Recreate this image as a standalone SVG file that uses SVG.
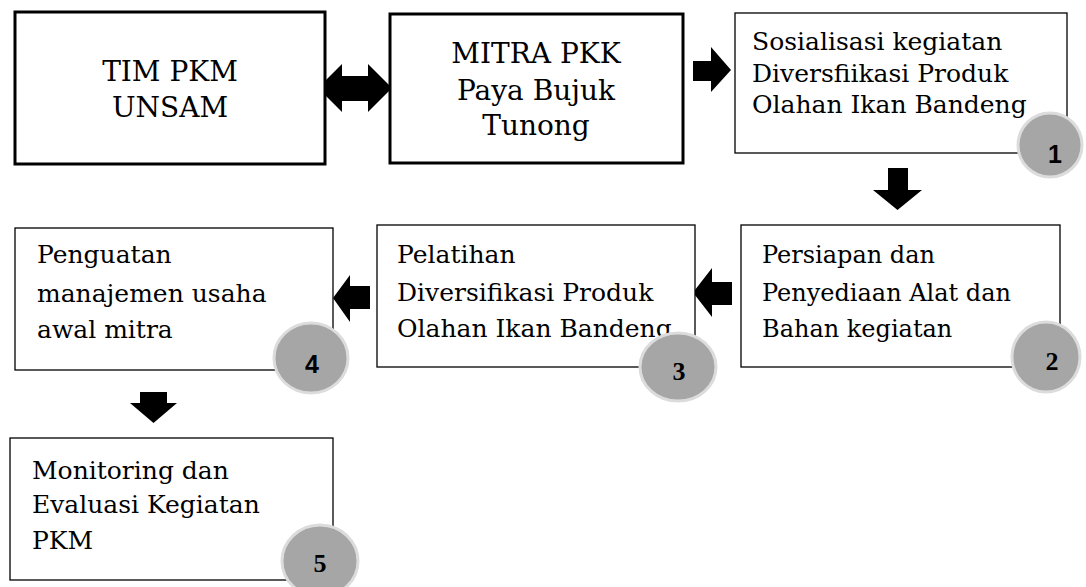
<svg xmlns="http://www.w3.org/2000/svg" width="1086" height="587" viewBox="0 0 1086 587">
<style>
.bx{fill:#fff;stroke:#000;stroke-width:1.3}
.bxt{fill:#fff;stroke:#000;stroke-width:3}
.t{font-family:"DejaVu Serif","Liberation Serif",serif;font-size:25px;fill:#000}
.tc{font-family:"DejaVu Serif","Liberation Serif",serif;font-size:28px;fill:#000;text-anchor:middle}
.c{fill:#a6a6a6;stroke:#dcdcdc;stroke-width:3}
.ns{font-family:"Liberation Sans",Arial,sans-serif;font-weight:bold;font-size:25px;fill:#000;text-anchor:middle}
.nr{font-family:"Liberation Serif","Times New Roman",serif;font-weight:bold;font-size:26px;fill:#000;text-anchor:middle}
.ar{fill:#000}
</style>
<rect width="1086" height="587" fill="#fff"/>
<g id="connectors">
<polygon class="ar" points="318,88 342,64 342,76 368,76 368,64 392,88 368,112 368,101 342,101 342,112"/>
<polygon class="ar" points="693,61 711,61 711,47 731,70 711,92 711,81 693,81"/>
<polygon class="ar" points="888,168 908,168 908,190 922,190 897.5,210 873,190 888,190"/>
<polygon class="ar" points="732,282 712,282 712,268 693,292.5 712,317 712,305 732,305"/>
<polygon class="ar" points="370,286 350,286 350,275 333,298 350,322 350,309 370,309"/>
<polygon class="ar" points="140,392 167,392 167,403 177,403 153.5,423 130,403 140,403"/>
</g>
<g id="tim">
<rect class="bxt" x="15" y="12" width="310" height="152"/>
<text class="tc" x="170" y="81">TIM PKM</text>
<text class="tc" x="170" y="117">UNSAM</text>
</g>
<g id="mitra">
<rect class="bxt" x="390" y="14" width="293" height="149"/>
<text class="tc" x="536" y="63">MITRA PKK</text>
<text class="tc" x="536" y="100">Paya Bujuk</text>
<text class="tc" x="536" y="135">Tunong</text>
</g>
<g id="step1">
<rect class="bx" x="735" y="13" width="332" height="140"/>
<text class="t" x="752" y="50">Sosialisasi kegiatan</text>
<text class="t" x="752" y="82">Diversfiikasi Produk</text>
<text class="t" x="752" y="113">Olahan Ikan Bandeng</text>
<circle class="c" cx="1050" cy="145" r="32"/>
<text class="ns" x="1055" y="163">1</text>
</g>
<g id="step2">
<rect class="bx" x="741" y="225" width="319" height="142"/>
<text class="t" x="762" y="263" style="font-size:24px">Persiapan dan</text>
<text class="t" x="762" y="301" style="font-size:24px">Penyediaan Alat dan</text>
<text class="t" x="762" y="337" style="font-size:24px">Bahan kegiatan</text>
<ellipse class="c" cx="1046" cy="357" rx="34" ry="35"/>
<text class="nr" x="1052" y="370">2</text>
</g>
<g id="step3">
<rect class="bx" x="377" y="225" width="318" height="142"/>
<text class="t" x="397" y="263">Pelatihan</text>
<text class="t" x="397" y="301">Diversifikasi Produk</text>
<text class="t" x="397" y="337">Olahan Ikan Bandeng</text>
<ellipse class="c" cx="678" cy="367" rx="38" ry="34"/>
<text class="nr" x="679" y="380">3</text>
</g>
<g id="step4">
<rect class="bx" x="15" y="228" width="318" height="142"/>
<text class="t" x="37" y="263">Penguatan</text>
<text class="t" x="37" y="302">manajemen usaha</text>
<text class="t" x="37" y="338">awal mitra</text>
<ellipse class="c" cx="311" cy="358" rx="37" ry="35"/>
<text class="ns" x="312" y="373">4</text>
</g>
<g id="step5">
<rect class="bx" x="10" y="438" width="323" height="142"/>
<text class="t" x="32" y="479">Monitoring dan</text>
<text class="t" x="32" y="513">Evaluasi Kegiatan</text>
<text class="t" x="32" y="549">PKM</text>
<ellipse class="c" cx="320" cy="561" rx="38" ry="36"/>
<text class="nr" x="320" y="572">5</text>
</g>
</svg>
